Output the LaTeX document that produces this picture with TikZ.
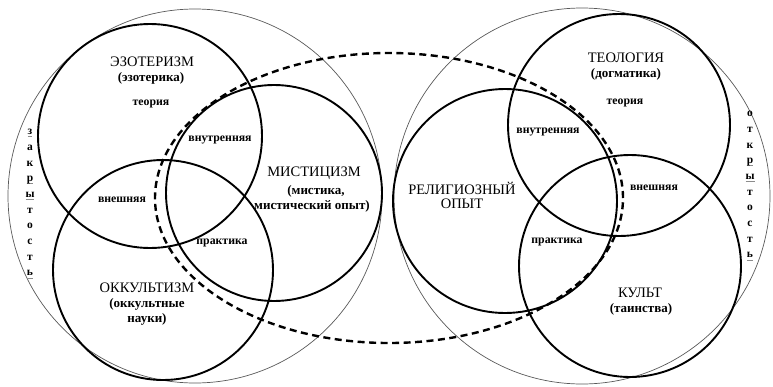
\documentclass[tikz,border=0pt]{standalone}
\usepackage{fontspec}
\setmainfont{Liberation Serif}
\newcommand{\sqq}[1]{\setbox0\hbox{#1}\rlap{\color{black!45}\rule[-2.2pt]{\wd0}{0.6pt}}#1}
\begin{document}
\begin{tikzpicture}[x=1pt,y=-1pt,
  bigring/.style={draw=black!65, line width=0.7pt},
  ring/.style={draw=black, line width=1.9pt},
  dashring/.style={draw=black, line width=2.4pt, dash pattern=on 7pt off 4.5pt},
  title/.style={inner sep=0pt, font=\fontsize{14.5}{15}\selectfont},
  sub/.style={inner sep=0pt, font=\bfseries\fontsize{13}{15}\selectfont},
  lab/.style={inner sep=0pt, font=\bfseries\fontsize{11.8}{13}\selectfont},
  vword/.style={inner sep=0pt, align=center, font=\bfseries\fontsize{11.5}{15.7}\selectfont}]
\useasboundingbox (0,0) rectangle (773,386);
% big thin circles
\draw[bigring] (195,196) circle[radius=187pt];
\draw[bigring] (582,196) circle[radius=188pt];
% thick circles left
\draw[ring] (150,136) circle[radius=112pt];
\draw[ring] (163,270) circle[radius=110pt];
\draw[ring] (274,193) circle[radius=108pt];
% thick circles right
\draw[ring] (619,125) circle[radius=111pt];
\draw[ring] (505,201) circle[radius=112pt];
\draw[ring] (630,266) circle[radius=111pt];
% dashed ellipse
\draw[dashring] (389,198) ellipse[x radius=234pt, y radius=145pt];
% left texts
\node[title] (ezo) at (152,62) {ЭЗОТЕРИЗМ};
\node[sub] (ezos) at (151,78) {(эзотерика)};
\node[lab] (teorL) at (151,104) {теория};
\node[lab] (vnutL) at (220,140) {внутренняя};
\node[lab] (vneshL) at (122,200) {внешняя};
\node[title] (mist) at (314,173) {МИСТИЦИЗМ};
\node[sub] (mists1) at (316,191) {(мистика,};
\node[sub] (mists2) at (312,206) {мистический опыт)};
\node[lab] (praktL) at (222,243) {практика};
\node[title] (okk) at (147,288) {ОККУЛЬТИЗМ};
\node[sub] (okks1) at (147,304) {(оккультные};
\node[sub] (okks2) at (147,319) {науки)};
% right texts
\node[title] (teol) at (626,58) {ТЕОЛОГИЯ};
\node[sub] (teols) at (626,74) {(догматика)};
\node[lab] (teorR) at (625,103) {теория};
\node[lab] (vnutR) at (548,132) {внутренняя};
\node[lab] (vneshR) at (654,188) {внешняя};
\node[title] (rel1) at (462,188) {РЕЛИГИОЗНЫЙ};
\node[title] (rel2) at (462,204) {ОПЫТ};
\node[lab] (praktR) at (557,242) {практика};
\node[title] (kult) at (640,293) {КУЛЬТ};
\node[sub] (kults) at (641,309) {(таинства)};
% vertical words
\node[vword, anchor=north] (zakr) at (30,129) {\sqq{з}\\а\\к\\\sqq{р}\\\sqq{ы}\\т\\о\\с\\т\\\sqq{ь}};
\node[vword, anchor=north] (otkr) at (750,111) {о\\т\\к\\\sqq{р}\\\sqq{ы}\\т\\о\\с\\т\\\sqq{ь}};
\end{tikzpicture}
\end{document}
